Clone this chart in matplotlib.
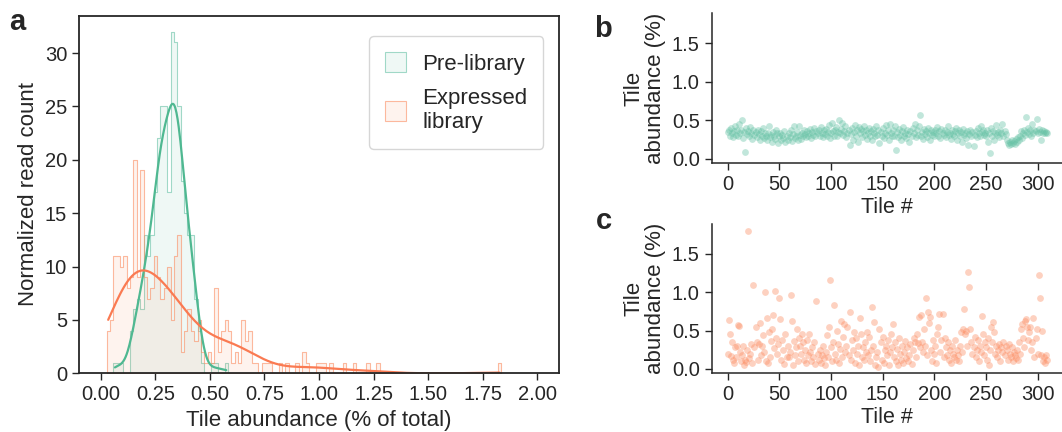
import numpy as np
import pandas as pd
import matplotlib
matplotlib.use('Agg')
import matplotlib.pyplot as plt
import seaborn as sns
from matplotlib.colors import to_rgba

sns.set_style('ticks')
plt.rcParams.update({
    'font.family': ['Liberation Sans', 'DejaVu Sans'],
    'font.size': 15,
    'text.color': '#262626',
    'axes.labelcolor': '#262626',
    'xtick.color': '#262626',
    'ytick.color': '#262626',
    'axes.edgecolor': '#262626',
})

green = '#66c2a5'
orange = '#fc8d62'
green_line = '#4fb891'
orange_line = '#fa7a52'

# panel a: histogram bin counts (117 common bins)
bin_lo, bin_hi = 0.026, 1.835
pre_counts = [0, 0, 1, 1, 1, 0, 0, 4, 6, 7,
              6, 13, 11, 13, 17, 22, 25, 25, 17, 32,
              31, 25, 18, 15, 13, 13, 7, 4, 1, 0,
              0, 1, 1, 0, 0, 1] + [0] * 81
expr_counts = [4, 5, 11, 11, 10, 11, 8, 9, 20, 9,
               19, 9, 7, 8, 11, 9, 7, 8, 10, 5,
               11, 13, 2, 4, 6, 4, 3, 5, 2, 1,
               2, 1, 8, 2, 4, 5, 4, 1, 2, 1,
               5, 3, 4, 1, 1, 0, 1, 1, 1, 0,
               0, 1, 0, 1, 0, 0, 1, 0, 2, 1,
               0, 0, 1, 1, 1, 0, 1, 0, 0, 0,
               1, 0, 0, 1, 0, 0, 0, 1, 0, 0,
               1] + [0] * 35 + [1]

# panels b, c: abundance per tile (%)
pre_tiles = [
    0.35, 0.38, 0.30, 0.40, 0.33, 0.28, 0.36, 0.42, 0.31, 0.37,
    0.30, 0.45, 0.33, 0.38, 0.50, 0.27, 0.35, 0.09, 0.40, 0.32,
    0.36, 0.29, 0.41, 0.33, 0.26, 0.38, 0.31, 0.35, 0.28, 0.37,
    0.32, 0.25, 0.36, 0.30, 0.40, 0.27, 0.34, 0.29, 0.24, 0.33,
    0.42, 0.28, 0.31, 0.22, 0.35, 0.30, 0.26, 0.38, 0.33, 0.21,
    0.29, 0.34, 0.24, 0.31, 0.27, 0.36, 0.22, 0.30, 0.25, 0.33,
    0.28, 0.38, 0.23, 0.32, 0.42, 0.27, 0.30, 0.35, 0.24, 0.43,
    0.31, 0.26, 0.34, 0.29, 0.37, 0.32, 0.28, 0.36, 0.30, 0.33,
    0.39, 0.27, 0.35, 0.31, 0.40, 0.29, 0.36, 0.33, 0.38, 0.30,
    0.41, 0.34, 0.28, 0.37, 0.32, 0.39, 0.30, 0.35, 0.44, 0.27,
    0.33, 0.47, 0.36, 0.30, 0.38, 0.41, 0.29, 0.35, 0.51, 0.33,
    0.39, 0.46, 0.31, 0.36, 0.43, 0.28, 0.34, 0.38, 0.18, 0.32,
    0.40, 0.25, 0.35, 0.44, 0.30, 0.37, 0.22, 0.41, 0.33, 0.39,
    0.28, 0.36, 0.43, 0.31, 0.38, 0.26, 0.34, 0.40, 0.30, 0.36,
    0.24, 0.39, 0.33, 0.29, 0.42, 0.31, 0.37, 0.21, 0.35, 0.30,
    0.40, 0.27, 0.34, 0.44, 0.31, 0.38, 0.25, 0.45, 0.33, 0.29,
    0.37, 0.30, 0.42, 0.12, 0.35, 0.28, 0.39, 0.31, 0.24, 0.36,
    0.41, 0.30, 0.34, 0.27, 0.38, 0.32, 0.22, 0.36, 0.29, 0.40,
    0.33, 0.45, 0.28, 0.37, 0.31, 0.42, 0.57, 0.30, 0.35, 0.26,
    0.39, 0.32, 0.36, 0.28, 0.40, 0.33, 0.25, 0.37, 0.31, 0.35,
    0.29, 0.38, 0.34, 0.41, 0.30, 0.36, 0.27, 0.39, 0.33, 0.31,
    0.37, 0.28, 0.35, 0.42, 0.31, 0.34, 0.26, 0.38, 0.32, 0.29,
    0.36, 0.40, 0.24, 0.33, 0.37, 0.30, 0.35, 0.22, 0.39, 0.31,
    0.34, 0.27, 0.36, 0.18, 0.32, 0.38, 0.29, 0.35, 0.17, 0.31,
    0.36, 0.28, 0.40, 0.33, 0.30, 0.42, 0.35, 0.38, 0.31, 0.34,
    0.29, 0.37, 0.22, 0.33, 0.08, 0.40, 0.30, 0.36, 0.25, 0.34,
    0.44, 0.31, 0.35, 0.28, 0.38, 0.33, 0.45, 0.30, 0.36, 0.32,
    0.24, 0.20, 0.18, 0.22, 0.19, 0.25, 0.21, 0.23, 0.19, 0.26,
    0.22, 0.28, 0.25, 0.30, 0.36, 0.27, 0.33, 0.38, 0.31, 0.54,
    0.35, 0.40, 0.32, 0.37, 0.30, 0.45, 0.34, 0.38, 0.36, 0.52,
    0.33, 0.39, 0.35, 0.24, 0.37, 0.34, 0.36, 0.33, 0.35, 0.34,
]
expr_tiles = [
    0.20, 0.64, 0.45, 0.17, 0.35, 0.12, 0.08, 0.28, 0.15, 0.30,
    0.57, 0.56, 0.22, 0.10, 0.18, 0.30, 0.05, 0.12, 0.09, 0.25,
    1.80, 0.14, 0.20, 0.33, 0.08, 1.10, 0.28, 0.55, 0.35, 0.12,
    0.32, 0.60, 0.18, 0.30, 0.44, 0.22, 1.00, 0.10, 0.67, 0.08,
    0.48, 0.15, 0.36, 0.52, 0.70, 0.27, 1.02, 0.40, 0.20, 0.33,
    0.92, 0.65, 0.12, 0.38, 0.25, 0.06, 0.45, 0.16, 0.30, 0.15,
    0.22, 0.97, 0.63, 0.05, 0.36, 0.18, 0.28, 0.52, 0.10, 0.40,
    0.30, 0.20, 0.46, 0.35, 0.12, 0.25, 0.08, 0.38, 0.18, 0.45,
    0.22, 0.10, 0.28, 0.15, 0.35, 0.06, 0.89, 0.20, 0.12, 0.25,
    0.08, 0.18, 0.30, 0.14, 0.05, 0.22, 0.44, 0.16, 0.55, 1.16,
    0.28, 0.10, 0.35, 0.84, 0.20, 0.12, 0.50, 0.32, 0.08, 0.26,
    0.62, 0.15, 0.42, 0.58, 0.22, 0.30, 0.55, 0.18, 0.74, 0.12,
    0.38, 0.25, 0.48, 0.08, 0.40, 0.20, 0.30, 0.05, 0.66, 0.45,
    0.15, 0.28, 0.12, 0.35, 0.22, 0.48, 0.18, 0.42, 0.10, 0.25,
    0.81, 0.30, 0.61, 0.05, 0.15, 0.22, 0.03, 0.52, 0.35, 0.12,
    0.42, 0.08, 0.25, 0.30, 0.18, 0.38, 0.05, 0.22, 0.45, 0.28,
    0.59, 0.15, 0.35, 0.10, 0.26, 0.05, 0.40, 0.20, 0.12, 0.30,
    0.08, 0.22, 0.36, 0.14, 0.28, 0.10, 0.18, 0.32, 0.06, 0.25,
    0.40, 0.35, 0.15, 0.45, 0.34, 0.68, 0.28, 0.70, 0.35, 0.22,
    0.52, 0.30, 0.92, 0.18, 0.74, 0.60, 0.68, 0.25, 0.10, 0.38,
    0.20, 0.30, 0.08, 0.45, 0.55, 0.72, 0.22, 0.38, 0.72, 0.15,
    0.40, 0.28, 0.18, 0.35, 0.12, 0.25, 0.08, 0.30, 0.20, 0.15,
    0.38, 0.12, 0.25, 0.18, 0.10, 0.30, 0.48, 0.22, 0.52, 0.78,
    0.45, 0.50, 0.30, 1.26, 1.07, 0.52, 0.35, 0.20, 0.28, 0.42,
    0.15, 0.25, 0.38, 0.10, 0.30, 0.22, 0.69, 0.45, 0.18, 0.35,
    0.28, 0.12, 0.40, 0.05, 0.25, 0.55, 0.35, 0.61, 0.48, 0.20,
    0.30, 0.15, 0.25, 0.32, 0.10, 0.28, 0.22, 0.35, 0.18, 0.30,
    0.25, 0.12, 0.32, 0.20, 0.15, 0.28, 0.10, 0.22, 0.18, 0.14,
    0.25, 0.12, 0.35, 0.20, 0.52, 0.58, 0.40, 0.28, 0.62, 0.65,
    0.55, 0.38, 0.48, 0.55, 0.25, 0.35, 0.66, 0.15, 0.40, 0.52,
    0.20, 1.22, 0.92, 0.18, 0.50, 0.10, 0.15, 0.08, 0.18, 0.12,
]

n_bins = len(pre_counts)
edges = np.linspace(bin_lo, bin_hi, n_bins + 1)
centers = (edges[:-1] + edges[1:]) / 2

fig = plt.figure(figsize=(10.62, 4.32), dpi=100)
ax_a = fig.add_axes([0.0744, 0.1359, 0.452, 0.8278])
ax_b = fig.add_axes([0.6701, 0.622, 0.3307, 0.347])
ax_c = fig.add_axes([0.6701, 0.1359, 0.3307, 0.345], sharey=ax_b)

for counts, col, lcol, lab in [(pre_counts, green, green_line, 'Pre-library'),
                               (expr_counts, orange, orange_line, 'Expressed\nlibrary')]:
    vals = np.repeat(centers, counts)
    sns.histplot(x=vals, bins=n_bins, binrange=(bin_lo, bin_hi),
                 element='step', fill=True, kde=True, ax=ax_a, color=col,
                 label=lab, facecolor=to_rgba(col, 0.1),
                 edgecolor=to_rgba(col, 0.6), linewidth=0.8,
                 kde_kws={'bw_adjust': 1.2},
                 line_kws={'linewidth': 1.6})
    ax_a.lines[-1].set_color(lcol)

ax_a.set_xlim(-0.1, 2.1)
ax_a.set_ylim(0, 33.5)
ax_a.set_xticks(np.arange(0, 2.01, 0.25))
ax_a.xaxis.set_major_formatter(matplotlib.ticker.FormatStrFormatter('%.2f'))
ax_a.set_xlabel('Tile abundance (% of total)', fontsize=16)
ax_a.set_ylabel('Normalized read count', fontsize=16)
ax_a.tick_params(labelsize=14.5, length=5, width=1)
for s in ax_a.spines.values():
    s.set_linewidth(1.3)
ax_a.legend(loc='upper right', fontsize=16, frameon=True, handlelength=0.95,
            handleheight=1.05, handletextpad=0.75, borderpad=0.7,
            labelspacing=0.6, borderaxespad=0,
            bbox_to_anchor=(0.967, 0.943))

tiles = np.arange(len(pre_tiles))
ax_b.scatter(tiles, pre_tiles, s=24, color=green, alpha=0.4, linewidths=0)
tiles_c = np.arange(len(expr_tiles))
ax_c.scatter(tiles_c, expr_tiles, s=24, color=orange, alpha=0.4, linewidths=0)

for ax in (ax_b, ax_c):
    sns.despine(ax=ax)
    ax.set_xticks(np.arange(0, 301, 50))
    ax.set_yticks([0, 0.5, 1.0, 1.5])
    ax.yaxis.set_major_formatter(matplotlib.ticker.FormatStrFormatter('%.1f'))
    ax.tick_params(labelsize=14.5, length=5, width=1)
    ax.set_xlabel('Tile #', fontsize=15.5, labelpad=2)
    ax.set_ylabel('Tile\nabundance (%)', fontsize=16, linespacing=1.05)
    for s in ax.spines.values():
        s.set_linewidth(1.1)

fig.text(0.009, 0.93, 'a', fontsize=21, fontweight='bold')
fig.text(0.559, 0.915, 'b', fontsize=21, fontweight='bold')
fig.text(0.561, 0.47, 'c', fontsize=21, fontweight='bold')

fig.savefig('out.png', dpi=100)
